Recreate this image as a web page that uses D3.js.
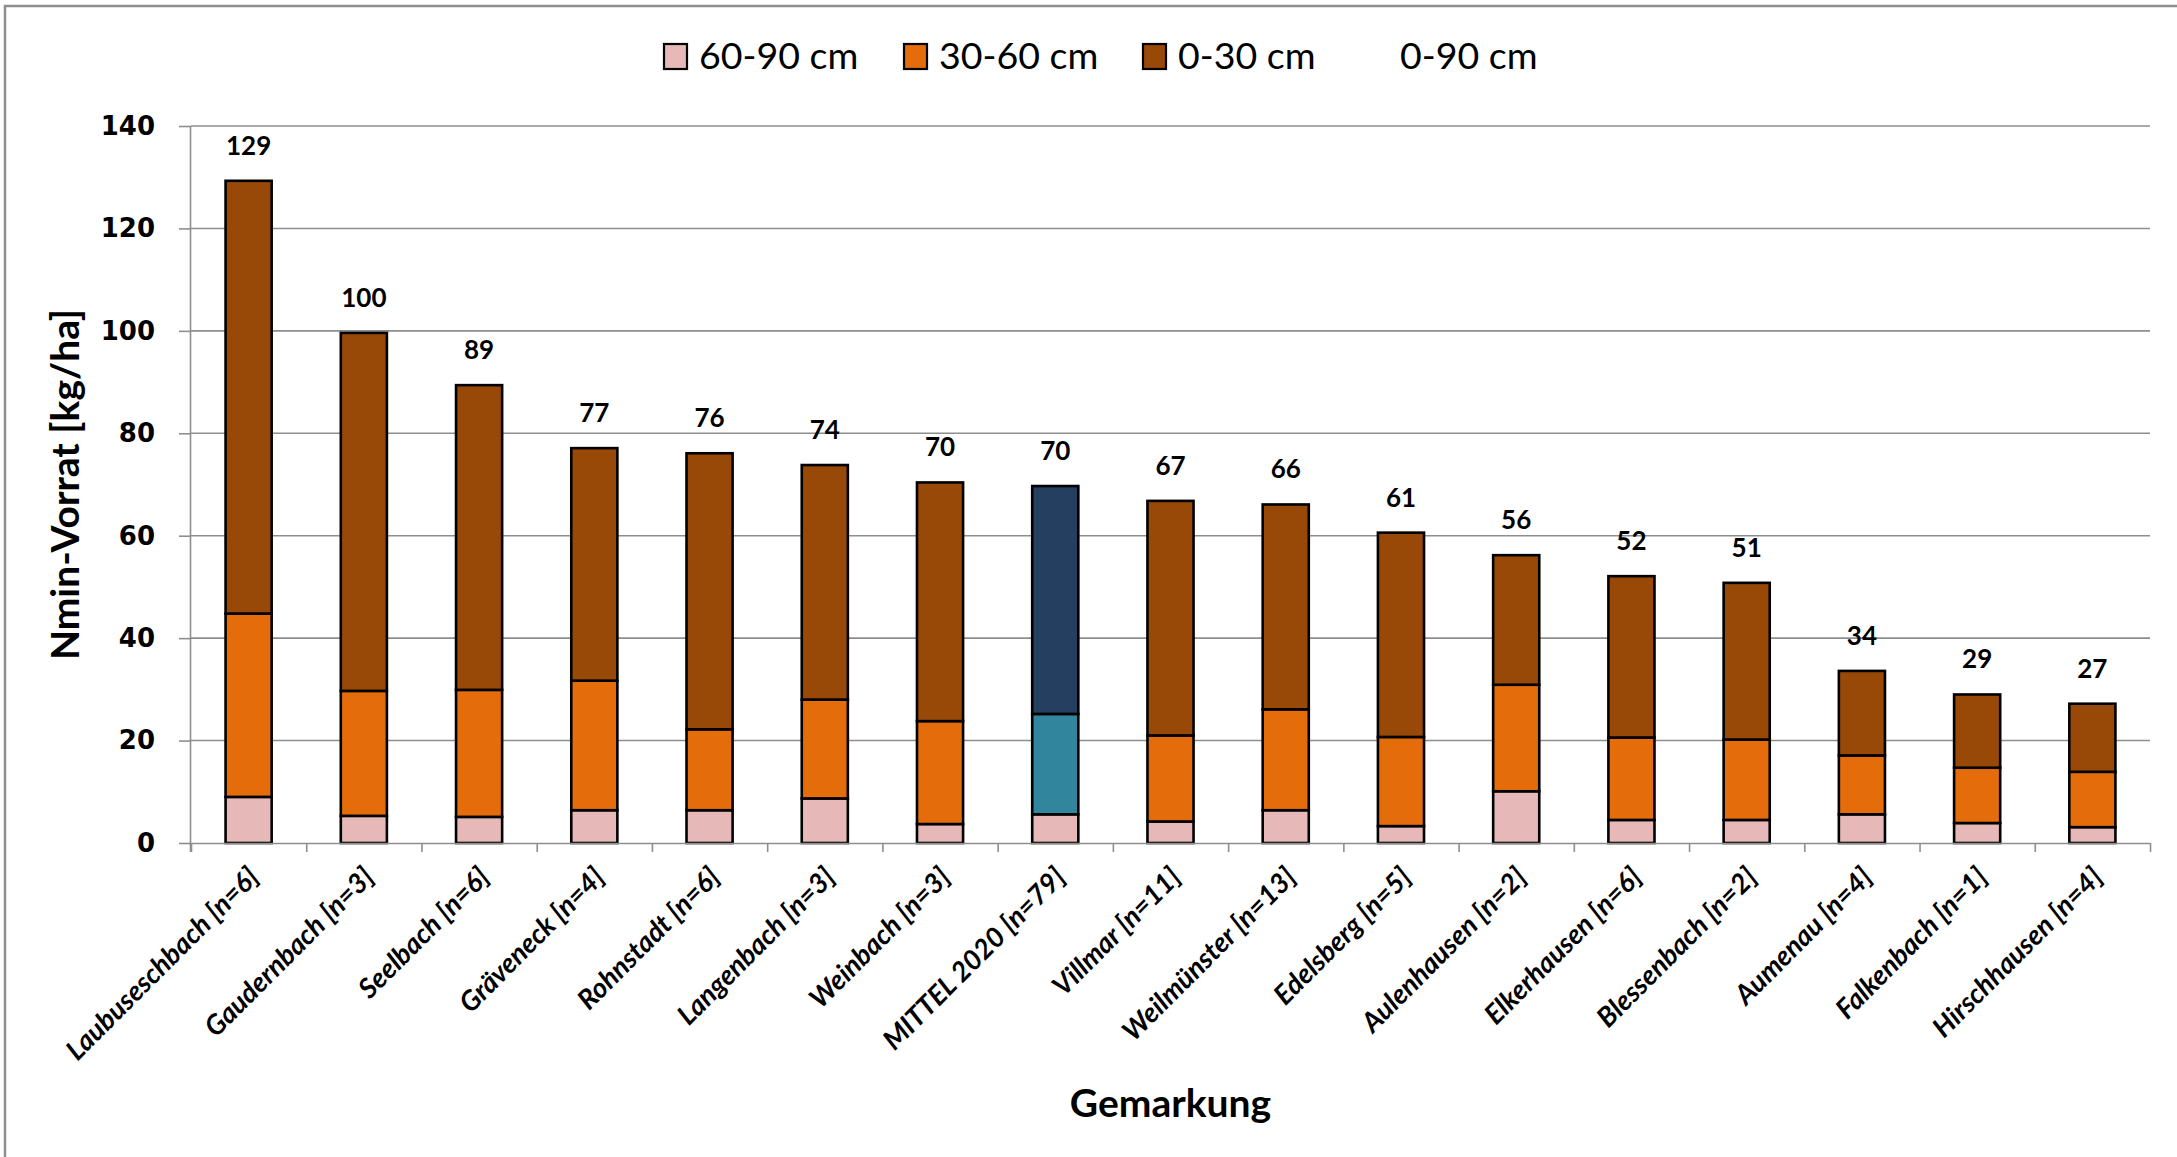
<!DOCTYPE html>
<html lang="de">
<head>
<meta charset="utf-8">
<title>Nmin-Vorrat nach Gemarkung</title>
<script src="https://cdn.jsdelivr.net/npm/d3@7/dist/d3.min.js"></script>
<style>
  html, body { margin: 0; padding: 0; background: #ffffff; }
  svg { display: block; }
</style>
</head>
<body>
<svg id="chart" width="2177" height="1157"></svg>
<script>
// Gemarkungen, sortiert nach Nmin-Vorrat 0-90 cm
const categories = [
  "Laubuseschbach [n=6]", "Gaudernbach [n=3]", "Seelbach [n=6]", "Gräveneck [n=4]",
  "Rohnstadt [n=6]", "Langenbach [n=3]", "Weinbach [n=3]", "MITTEL 2020 [n=79]",
  "Villmar [n=11]", "Weilmünster [n=13]", "Edelsberg [n=5]", "Aulenhausen [n=2]",
  "Elkerhausen [n=6]", "Blessenbach [n=2]", "Aumenau [n=4]", "Falkenbach [n=1]",
  "Hirschhausen [n=4]"
];

// Nmin je Bodenschicht [kg/ha]
const layer60to90 = [9.0, 5.3, 5.1, 6.4, 6.4, 8.7, 3.7, 5.6, 4.2, 6.4, 3.3, 10.1, 4.5, 4.5, 5.6, 3.9, 3.1];
const layer30to60 = [35.8, 24.4, 24.8, 25.3, 15.8, 19.3, 20.1, 19.6, 16.8, 19.7, 17.4, 20.8, 16.1, 15.7, 11.5, 10.8, 10.8];
const layer0to30  = [84.5, 69.9, 59.5, 45.4, 53.9, 45.8, 46.6, 44.5, 45.8, 40.0, 39.9, 25.3, 31.5, 30.6, 16.5, 14.3, 13.3];

const seriesKeys   = ["60-90 cm", "30-60 cm", "0-30 cm"];
const legendLabels = ["60-90 cm", "30-60 cm", "0-30 cm", "0-90 cm"];
const yTicks = [0, 20, 40, 60, 80, 100, 120, 140];
const meanCategory = "MITTEL 2020 [n=79]";

const layerColors = { "60-90 cm": "#e6b9b8", "30-60 cm": "#e46c0a", "0-30 cm": "#984807" };
const meanColors  = { "60-90 cm": "#e6b9b8", "30-60 cm": "#31859c", "0-30 cm": "#243f60" };

// rows for d3.stack
const rows = categories.map((c, i) => ({
  name: c,
  "60-90 cm": layer60to90[i],
  "30-60 cm": layer30to60[i],
  "0-30 cm": layer0to30[i]
}));
rows.forEach(r => { r.total = seriesKeys.reduce((s, k) => s + r[k], 0); });

const svg = d3.select("#chart");
const W = 2177, H = 1157;
const plot = { left: 191, right: 2150, top: 126, bottom: 843 };
const gridColor = "#8e8e8e";

svg.append("rect").attr("width", W).attr("height", H).attr("fill", "#fff");

// outer frame (top and left edges fall inside the canvas)
svg.append("path")
  .attr("d", `M5,${H} V6 H${W}`)
  .attr("fill", "none").attr("stroke", gridColor).attr("stroke-width", 2.5);

const x = d3.scaleBand()
  .domain(categories)
  .range([plot.left, plot.right])
  .paddingInner(0.6)
  .paddingOuter(0.3);

const y = d3.scaleLinear().domain([0, 140]).range([plot.bottom, plot.top]);

// horizontal gridlines
svg.append("g")
  .selectAll("line")
  .data(yTicks.filter(t => t > 0))
  .join("line")
  .attr("x1", plot.left).attr("x2", plot.right)
  .attr("y1", d => y(d)).attr("y2", d => y(d))
  .attr("stroke", gridColor).attr("stroke-width", 1.6);

// stacked bars
const stacked = d3.stack().keys(seriesKeys)(rows);
svg.append("g")
  .selectAll("g")
  .data(stacked)
  .join("g")
  .each(function (layer) {
    d3.select(this).selectAll("rect")
      .data(layer)
      .join("rect")
      .attr("x", d => x(d.data.name))
      .attr("width", x.bandwidth())
      .attr("y", d => y(d[1]))
      .attr("height", d => y(d[0]) - y(d[1]))
      .attr("fill", d => (d.data.name === meanCategory ? meanColors : layerColors)[layer.key])
      .attr("stroke", "#000")
      .attr("stroke-width", 2.6);
  });

// y axis
const yAxis = svg.append("g")
  .attr("transform", `translate(${plot.left},0)`)
  .call(d3.axisLeft(y).tickValues(yTicks).tickSize(12).tickPadding(24).tickFormat(d3.format("d")));
yAxis.selectAll("path, line").attr("stroke", gridColor).attr("stroke-width", 1.6);
yAxis.select(".domain").attr("d", `M-0.5,${plot.top}V${plot.bottom + 9}`);
yAxis.selectAll("text")
  .attr("fill", "#000")
  .style("font-family", "'DejaVu Sans', Verdana, sans-serif")
  .style("font-weight", "bold")
  .style("font-size", "26px");

// x axis: ticks on category boundaries
const boundary = d3.scaleLinear().domain([0, categories.length]).range([plot.left, plot.right]);
const xAxis = svg.append("g")
  .attr("transform", `translate(0,${plot.bottom})`)
  .call(d3.axisBottom(boundary).tickValues(d3.range(categories.length + 1)).tickSize(9).tickFormat(""));
xAxis.selectAll("path, line").attr("stroke", gridColor).attr("stroke-width", 1.6);
xAxis.select(".domain").attr("d", `M${plot.left},0.5H${plot.right}`);

// rotated category labels
svg.append("g")
  .selectAll("text")
  .data(categories)
  .join("text")
  .attr("transform", d => `translate(${x(d) + x.bandwidth() / 2 + 5},${plot.bottom + 29}) rotate(-45)`)
  .attr("text-anchor", "end")
  .attr("dy", "0.35em")
  .style("font-family", "Lato, 'Open Sans', sans-serif")
  .style("font-weight", "bold")
  .style("font-style", "italic")
  .style("font-size", "27.5px")
  .attr("fill", "#000")
  .text(d => d);

// totals 0-90 cm above each bar
svg.append("g")
  .selectAll("text")
  .data(rows)
  .join("text")
  .attr("x", d => x(d.name) + x.bandwidth() / 2)
  .attr("y", d => y(d.total) - 26)
  .attr("text-anchor", "middle")
  .style("font-family", "Lato, 'Open Sans', sans-serif")
  .style("font-weight", "bold")
  .style("font-size", "26px")
  .attr("fill", "#000")
  .text(d => d3.format(".0f")(d.total));

// axis titles
svg.append("text")
  .attr("transform", `translate(79,${(plot.top + plot.bottom) / 2}) rotate(-90)`)
  .attr("text-anchor", "middle")
  .style("font-family", "Lato, 'Open Sans', sans-serif")
  .style("font-weight", "bold")
  .style("font-size", "39px")
  .attr("fill", "#000")
  .text("Nmin-Vorrat [kg/ha]");

svg.append("text")
  .attr("x", (plot.left + plot.right) / 2)
  .attr("y", 1117)
  .attr("text-anchor", "middle")
  .style("font-family", "Lato, 'Open Sans', sans-serif")
  .style("font-weight", "bold")
  .style("font-size", "39px")
  .attr("fill", "#000")
  .text("Gemarkung");

// legend
const legendX = [664, 904, 1143, 1365];
const legend = svg.append("g")
  .selectAll("g")
  .data(legendLabels)
  .join("g")
  .attr("transform", (d, i) => `translate(${legendX[i]},44)`);
legend.filter(d => seriesKeys.includes(d))
  .append("rect")
  .attr("width", 23).attr("height", 25)
  .attr("fill", d => layerColors[d])
  .attr("stroke", "#000").attr("stroke-width", 2.2);
legend.append("text")
  .attr("x", 35)
  .attr("y", 25)
  .style("font-family", "Lato, 'Open Sans', sans-serif")
  .style("font-size", "37.5px")
  .attr("fill", "#000")
  .text(d => d);
</script>
</body>
</html>
